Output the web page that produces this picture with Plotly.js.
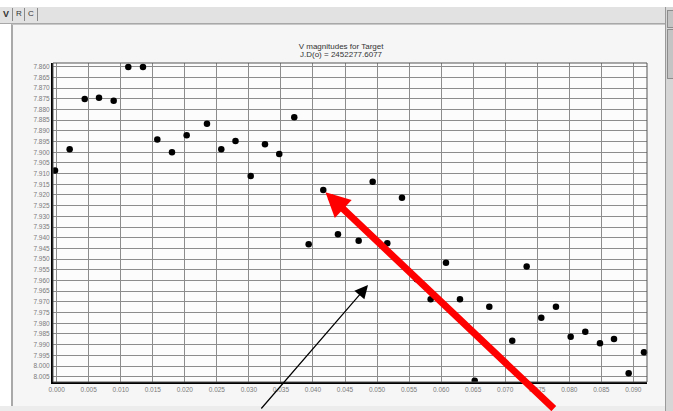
<!DOCTYPE html>
<html>
<head>
<meta charset="utf-8">
<script src="https://cdn.plot.ly/plotly-3.0.1.min.js"></script>
<style>
  html, body { margin:0; padding:0; }
  body { width:673px; height:411px; overflow:hidden; position:relative; background:#ffffff; font-family:"Liberation Sans", Arial, sans-serif; }
  #tabbar { position:absolute; left:0; top:7px; width:665px; height:16px; background:#e2e2e2; border-bottom:1px solid #a8a8a8; }
  #tabbar span { position:absolute; top:2px; font-size:9px; color:#333; }
  .sep { position:absolute; top:1px; width:1px; height:13px; background:#8a8a8a; }
  #panel { position:absolute; left:11px; top:24px; width:653px; height:382px; background:#f6f6f6; border-left:2px solid #a9a9a9; border-top:1px solid #c8c8c8; }
  #bottom { position:absolute; left:0; top:406px; width:665px; height:5px; background:#ececec; }
  #scroll { position:absolute; left:665px; top:7px; width:8px; height:404px; background:#d6d6d6; border-left:1px solid #9a9a9a; }
  .btn { position:absolute; left:1px; width:7px; background:#c4c4c4; border:1px solid #8c8c8c; }
  #chart { position:absolute; left:0; top:0; width:673px; height:411px; }
</style>
</head>
<body>
<div id="tabbar">
  <span style="left:3px;font-weight:bold;">V</span>
  <div class="sep" style="left:12px"></div>
  <span style="left:16px;font-size:8px;">R</span>
  <div class="sep" style="left:24px"></div>
  <span style="left:28px;font-size:8px;">C</span>
  <div class="sep" style="left:37px"></div>
</div>
<div id="panel"></div>
<div id="bottom"></div>
<div id="scroll">
  <div class="btn" style="top:3px;height:16px;"></div>
  <div class="btn" style="top:22px;height:48px;"></div>
</div>
<div id="chart"></div>
<script>
const phase = [
  -0.00026, 0.00203, 0.00438, 0.00661, 0.00890, 0.01118, 0.01347, 0.01571,
  0.01800, 0.02029, 0.02346, 0.02569, 0.02791, 0.03028, 0.03251, 0.03474,
  0.03708, 0.03933, 0.04161, 0.04390, 0.04713, 0.04932, 0.05160, 0.05389,
  0.05619, 0.05837, 0.06076, 0.06294, 0.06524, 0.06752, 0.07110, 0.07335,
  0.07563, 0.07792, 0.08022, 0.08250, 0.08479, 0.08698, 0.08927, 0.09166
];
const vmag = [
  7.9086, 7.8986, 7.8751, 7.8745, 7.8759, 7.8601, 7.8601, 7.8941,
  7.9000, 7.8921, 7.8867, 7.8986, 7.8948, 7.9111, 7.8963, 7.9008,
  7.8837, 7.9431, 7.9177, 7.9384, 7.9414, 7.9138, 7.9426, 7.9213,
  7.9594, 7.9688, 7.9517, 7.9688, 8.0069, 7.9723, 7.9882, 7.9535,
  7.9774, 7.9723, 7.9863, 7.9840, 7.9894, 7.9874, 8.0034, 7.9936
];

const xTickVals = [0.000,0.005,0.010,0.015,0.020,0.025,0.030,0.035,0.040,0.045,
                   0.050,0.055,0.060,0.065,0.070,0.075,0.080,0.085,0.090];
const xTickText = ["0.000","0.005","0.010","0.015","0.020","0.025","0.030","0.035","0.040","0.045",
                   "0.050","0.055","0.060","0.065","0.070","0.075","0.080","0.085","0.090"];
const yTickVals = [7.860,7.865,7.870,7.875,7.880,7.885,7.890,7.895,7.900,7.905,
                   7.910,7.915,7.920,7.925,7.930,7.935,7.940,7.945,7.950,7.955,
                   7.960,7.965,7.970,7.975,7.980,7.985,7.990,7.995,8.000,8.005];
const yTickText = ["7.860","7.865","7.870","7.875","7.880","7.885","7.890","7.895","7.900","7.905",
                   "7.910","7.915","7.920","7.925","7.930","7.935","7.940","7.945","7.950","7.955",
                   "7.960","7.965","7.970","7.975","7.980","7.985","7.990","7.995","8.000","8.005"];

const titleLine1 = "V magnitudes for Target";
const titleLine2 = "J.D(o) = 2452277.6077";

// point the red arrow targets, and where the thin black arrow points
const redTargetIndex = 18;
const blackTip = {x: 0.04859, y: 7.9621};

const tickFont = {family: "Liberation Sans, Arial, sans-serif", size: 6.5, color: "#7a7a7a"};
const titleFont = {family: "Liberation Sans, Arial, sans-serif", size: 8, color: "#333333"};

const trace = {
  type: "scatter",
  mode: "markers",
  x: phase,
  y: vmag,
  cliponaxis: false,
  marker: {color: "#000000", size: 6.5},
  hoverinfo: "x+y"
};

const layout = {
  width: 673,
  height: 411,
  margin: {l: 53, r: 26, t: 63, b: 29, pad: 0},
  paper_bgcolor: "rgba(0,0,0,0)",
  plot_bgcolor: "#fcfcfc",
  showlegend: false,
  title: {
    text: titleLine1,
    font: titleFont,
    x: 0.485, xref: "paper", xanchor: "center",
    y: 0.8865, yref: "container", yanchor: "middle"
  },
  xaxis: {
    range: [-0.00057, 0.09213],
    tickmode: "array",
    tickvals: xTickVals,
    ticktext: xTickText,
    tickfont: tickFont,
    ticks: "",
    showgrid: true,
    gridcolor: "#8c8c8c",
    gridwidth: 1,
    zeroline: false,
    showline: true,
    linecolor: "#000000",
    linewidth: 2,
    fixedrange: true
  },
  yaxis: {
    range: [8.00747, 7.85827],
    tickmode: "array",
    tickvals: yTickVals,
    ticktext: yTickText,
    tickfont: tickFont,
    ticks: "",
    showgrid: true,
    gridcolor: "#8c8c8c",
    gridwidth: 1,
    zeroline: false,
    showline: true,
    linecolor: "#000000",
    linewidth: 2,
    fixedrange: true
  },
  shapes: [
    {type: "rect", xref: "paper", yref: "paper", x0: 0, x1: 1, y0: 0, y1: 1,
     line: {color: "#555555", width: 1}, fillcolor: "rgba(0,0,0,0)", layer: "above"}
  ],
  annotations: [
    {x: 0.485, y: 1.028, xref: "paper", yref: "paper", xanchor: "center", yanchor: "middle",
     text: titleLine2, showarrow: false, font: titleFont},
    {x: blackTip.x, y: blackTip.y, xref: "x", yref: "y", text: "",
     showarrow: true, ax: -108, ay: 125, arrowhead: 2, arrowsize: 2.2,
     arrowwidth: 1.2, arrowcolor: "#000000"},
    {x: phase[redTargetIndex], y: vmag[redTargetIndex], xref: "x", yref: "y", text: "",
     showarrow: true, ax: 232, ay: 220, standoff: 3, arrowhead: 2, arrowsize: 0.7,
     arrowwidth: 7, arrowcolor: "#ff0000"}
  ]
};

Plotly.newPlot("chart", [trace], layout, {displayModeBar: false, staticPlot: true});
</script>
</body>
</html>
